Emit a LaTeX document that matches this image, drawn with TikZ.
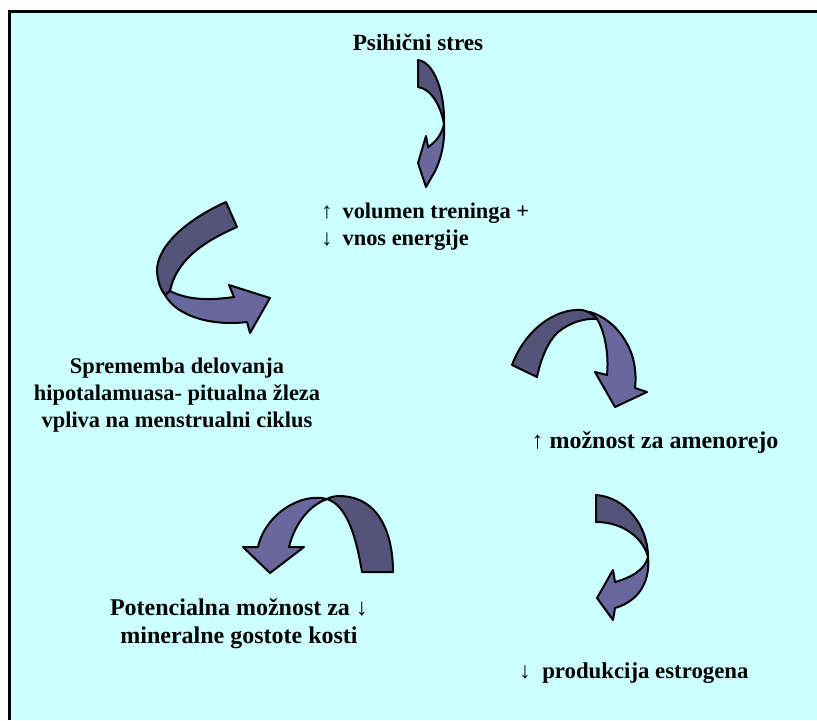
\documentclass[tikz,border=0pt]{standalone}
\usepackage{fontspec}
\setmainfont{Liberation Serif}

\definecolor{bgcyan}{RGB}{204,255,255}
\definecolor{backarr}{RGB}{84,84,122}
\definecolor{frontarr}{RGB}{104,104,158}

\tikzset{
  txt/.style={font=\bfseries\fontsize{11.2}{13.5}\selectfont, align=center, inner sep=0pt},
  bigtxt/.style={txt, font=\bfseries\fontsize{12}{14}\selectfont},
  backband/.style={fill=backarr, draw=black, line width=1pt, line join=round},
  frontband/.style={fill=frontarr, draw=black, line width=1pt, line join=round}
}

\begin{document}
\begin{tikzpicture}[x=0.5pt, y=-0.5pt]
    \useasboundingbox (0,0) rectangle (817,720);
    \fill[white] (0,0) rectangle (817,720);
    \fill[bgcyan] (9,11) rectangle (817,720);
    \draw[line width=1.5pt] (9,720) -- (9,11) -- (817,11);

    % texts
    \node[txt, font=\bfseries\fontsize{11.6}{13.5}\selectfont] (stres) at (418,42) {Psihični stres};
    \node[txt, align=left, anchor=west] (trening) at (321,227)
      {↑\hspace{5pt}volumen treninga +\\↓\hspace{5pt}vnos energije};
    \node[txt] (hipo) at (177,395)
      {Sprememba delovanja\\hipotalamuasa- pitualna žleza\\vpliva na menstrualni ciklus};
    \node[bigtxt] (ameno) at (655,443) {↑ možnost za amenorejo};
    \node[bigtxt] (kosti) at (239,624)
      {Potencialna možnost za ↓\\mineralne gostote kosti};
    \node[txt, font=\bfseries\fontsize{11.4}{13.5}\selectfont] (estro) at (634,673)
      {↓\ \ produkcija estrogena};

    % stres -> trening
    \draw[backband] (418,60) .. controls (434,62) and (445,92) .. (444,124)
      .. controls (441,107) and (432,89) .. (418,87) -- cycle;
    \draw[frontband] (444,124) .. controls (445,140) and (442,158) .. (434,173)
      -- (426,187) -- (418,163) -- (426,136) -- (428,147)
      .. controls (436,142) and (442,134) .. (444,124) -- cycle;

    % hipo -> trening
    \draw[backband] (226,202) .. controls (190,218) and (156,245) .. (157,272)
      .. controls (158,283) and (161,290) .. (165,295) -- (170,291)
      .. controls (176,262) and (200,243) .. (237,227) -- cycle;
    \draw[frontband] (165,295) -- (170,291) .. controls (190,301) and (212,300) .. (234,297)
      -- (229,285) -- (270,298) -- (250,333) -- (247,322)
      .. controls (215,326) and (178,318) .. (165,295) -- cycle;

    % trening -> ameno
    \draw[backband] (512,365) .. controls (525,330) and (555,308) .. (582,310)
      .. controls (588,311) and (593,314) .. (597,319)
      .. controls (585,318) and (570,322) .. (557,333)
      .. controls (548,342) and (541,358) .. (537,377) -- cycle;
    \draw[frontband] (590,312) .. controls (610,318) and (625,335) .. (632,355)
      .. controls (636,368) and (636,380) .. (635,388) -- (647,392) -- (615,407)
      -- (595,372) -- (607,375) .. controls (609,355) and (605,332) .. (597,319)
      -- cycle;

    % ameno -> estro
    \draw[backband] (596,495) .. controls (625,497) and (648,525) .. (648,557)
      .. controls (644,540) and (625,522) .. (596,522) -- cycle;
    \draw[frontband] (648,557) .. controls (650,578) and (642,600) .. (615,608)
      -- (613,620) -- (597,598) -- (613,570) -- (615,582)
      .. controls (630,578) and (645,570) .. (648,557) -- cycle;

    % estro -> kosti
    \draw[backband] (393,572) .. controls (393,535) and (380,497) .. (340,496)
      .. controls (335,496) and (330,497) .. (327,499)
      .. controls (345,505) and (355,530) .. (362,572) -- cycle;
    \draw[frontband] (327,499) .. controls (300,492) and (265,515) .. (258,547)
      -- (243,547) -- (270,573) -- (304,547) -- (289,547)
      .. controls (293,530) and (305,507) .. (327,499) -- cycle;
\end{tikzpicture}
\end{document}
